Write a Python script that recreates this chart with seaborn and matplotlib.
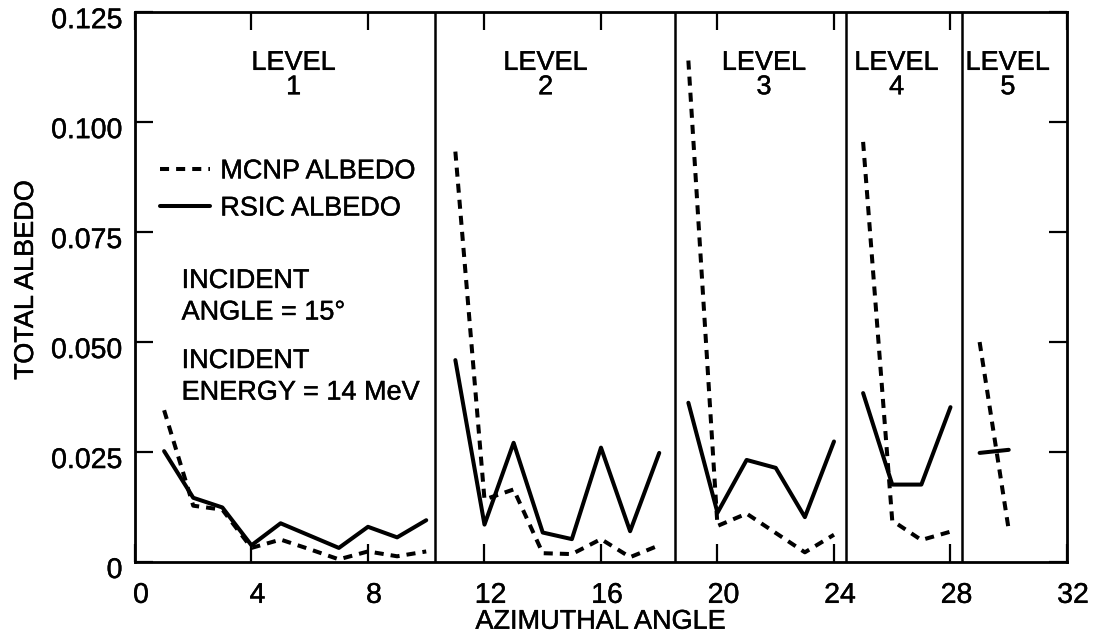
import matplotlib
matplotlib.use("Agg")
import matplotlib.pyplot as plt
import matplotlib.transforms as mtransforms
import matplotlib.patheffects as pe
import seaborn as sns
import pandas as pd

# ---- data ----
level1_angle = [1, 2, 3, 4, 5, 6, 7, 8, 9, 10]
level1_mcnp = [0.0345, 0.0128, 0.0119, 0.0032, 0.0051, 0.0029, 0.0006, 0.0024, 0.0013, 0.0024]
level1_rsic = [0.0252, 0.0146, 0.0124, 0.0038, 0.0088, 0.0060, 0.0032, 0.0080, 0.0056, 0.0095]

level2_angle = [11, 12, 13, 14, 15, 16, 17, 18]
level2_mcnp = [0.0933, 0.0142, 0.0165, 0.0020, 0.0018, 0.0052, 0.0011, 0.0038]
level2_rsic = [0.0459, 0.0085, 0.0271, 0.0067, 0.0052, 0.0260, 0.0070, 0.0248]

level3_angle = [19, 20, 21, 22, 23, 24]
level3_mcnp = [0.1140, 0.0082, 0.0110, 0.0066, 0.0022, 0.0062]
level3_rsic = [0.0362, 0.0112, 0.0232, 0.0214, 0.0102, 0.0274]

level4_angle = [25, 26, 27, 28]
level4_mcnp = [0.0955, 0.0094, 0.0050, 0.0069]
level4_rsic = [0.0384, 0.0176, 0.0176, 0.0352]

level5_angle = [29, 30]
level5_mcnp = [0.0500, 0.0073]
level5_rsic = [0.0248, 0.0255]

level_names = ["1", "2", "3", "4", "5"]
level_label_x = [5.45, 14.1, 21.6, 26.15, 29.97]
level_boundaries = [10.3, 18.55, 24.4, 28.4]

x_ticks = [0, 4, 8, 12, 16, 20, 24, 28, 32]
y_ticks = [0, 0.025, 0.050, 0.075, 0.100, 0.125]
y_tick_labels = ["0", "0.025", "0.050", "0.075", "0.100", "0.125"]

series_names = ["MCNP ALBEDO", "RSIC ALBEDO"]

# ---- build tidy table ----
rows = []
levels = [
    (level1_angle, level1_mcnp, level1_rsic),
    (level2_angle, level2_mcnp, level2_rsic),
    (level3_angle, level3_mcnp, level3_rsic),
    (level4_angle, level4_mcnp, level4_rsic),
    (level5_angle, level5_mcnp, level5_rsic),
]
for li, (ang, mc, rs) in enumerate(levels):
    for a, v in zip(ang, mc):
        rows.append({"level": li + 1, "series": series_names[0], "angle": a, "albedo": v})
    for a, v in zip(ang, rs):
        rows.append({"level": li + 1, "series": series_names[1], "angle": a, "albedo": v})
df = pd.DataFrame(rows)

# ---- style ----
sns.set_theme(style="ticks")
plt.rcParams["font.family"] = ["Liberation Sans", "DejaVu Sans"]
plt.rcParams["axes.edgecolor"] = "black"
plt.rcParams["axes.labelcolor"] = "black"
plt.rcParams["text.color"] = "black"
plt.rcParams["xtick.color"] = "black"
plt.rcParams["ytick.color"] = "black"

fig = plt.figure(figsize=(10.93, 6.39), dpi=100)
ax = fig.add_axes([0.1235, 0.1205, 0.8527, 0.8605])

LW = 2.9
dash_style = (0, (2.25, 1.75))
styles = {series_names[0]: dash_style, series_names[1]: "-"}

for lvl in range(1, 6):
    for s in series_names:
        sub = df[(df["level"] == lvl) & (df["series"] == s)]
        kw = {}
        if lvl == 1:
            kw["label"] = s
        sns.lineplot(data=sub, x="angle", y="albedo", ax=ax, color="black",
                     linewidth=LW, linestyle=styles[s], estimator=None,
                     sort=False, legend=False, **kw)

for b in level_boundaries:
    ax.axvline(b, color="black", lw=1.8, zorder=1)

ax.set_xlim(0, 32)
ax.set_ylim(0, 0.125)
ax.set_xticks(x_ticks)
ax.set_xticklabels([str(t) for t in x_ticks])
ax.set_yticks(y_ticks)
ax.set_yticklabels(y_tick_labels)

for sp in ax.spines.values():
    sp.set_linewidth(2.0)
    sp.set_color("black")

ax.tick_params(axis="both", which="both", direction="in", length=13, width=1.6,
               top=True, right=True, colors="black", labelsize=20.5)
ax.tick_params(axis="x", pad=15)
ax.tick_params(axis="y", pad=9)

heavy = [pe.withStroke(linewidth=0.3, foreground="black")]

# shift tick labels slightly as in the scanned original
for lbl in ax.get_xticklabels():
    lbl.set_transform(lbl.get_transform() +
                      mtransforms.ScaledTranslation(6 / 100, 0, fig.dpi_scale_trans))
    lbl.set_path_effects(heavy)
for lbl in ax.get_yticklabels():
    lbl.set_transform(lbl.get_transform() +
                      mtransforms.ScaledTranslation(0, -6 / 100, fig.dpi_scale_trans))
    lbl.set_path_effects(heavy)

ax.set_xlabel("AZIMUTHAL ANGLE", fontsize=19.5, color="black", path_effects=heavy)
ax.set_ylabel("TOTAL ALBEDO", fontsize=19.5, color="black", path_effects=heavy)
ax.xaxis.set_label_coords(0.5, -0.085)
ax.yaxis.set_label_coords(-0.103, 0.513)

TXT = 19.5
for name, xc in zip(level_names, level_label_x):
    ax.text(xc, 0.1107, "LEVEL\n" + name, ha="center", va="center",
            multialignment="center", fontsize=TXT, linespacing=0.92,
            path_effects=heavy)

ax.text(1.6, 0.0603, "INCIDENT\nANGLE = 15°", ha="left", va="center",
        fontsize=TXT, linespacing=1.28, path_effects=heavy)
ax.text(1.6, 0.0421, "INCIDENT\nENERGY = 14 MeV", ha="left", va="center",
        fontsize=TXT, linespacing=1.28, path_effects=heavy)

leg = ax.legend(loc="upper left", bbox_to_anchor=(0.027, 0.734), frameon=False,
                fontsize=TXT, handlelength=1.85, handletextpad=0.37, labelspacing=0.41,
                borderpad=0, borderaxespad=0)
for t in leg.get_texts():
    t.set_path_effects(heavy)

fig.savefig("out.png", dpi=100, facecolor="white")
